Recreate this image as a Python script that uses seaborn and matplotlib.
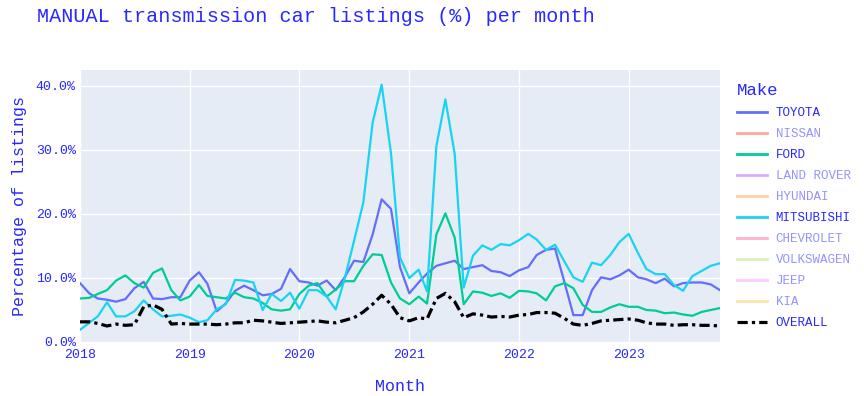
import seaborn as sns
import matplotlib.pyplot as plt
import matplotlib.ticker as mticker
from matplotlib.lines import Line2D
import pandas as pd

# Monthly share (%) of listings with manual transmission, Jan 2018 - Nov 2023
months = pd.date_range('2018-01-01', '2023-11-01', freq='MS')

toyota = [9.2, 7.6, 6.8, 6.6, 6.3, 6.7, 8.4, 9.4, 6.8, 6.7, 7.0, 7.0,
          9.6, 10.9, 9.1, 4.8, 6.0, 8.0, 8.8, 8.1, 7.3, 7.5, 8.3, 11.4,
          9.5, 9.3, 8.8, 9.6, 8.1, 10.2, 12.7, 12.5, 16.8, 22.3, 20.8, 11.7,
          7.6, 9.3, 10.7, 11.9, 12.3, 12.7, 11.4, 11.7, 12.0, 11.1, 10.9, 10.3,
          11.2, 11.7, 13.6, 14.4, 14.6, 9.4, 4.2, 4.2, 8.1, 10.1, 9.8, 10.4,
          11.3, 10.1, 9.8, 9.2, 9.9, 8.7, 9.2, 9.3, 9.3, 9.0, 8.1]
ford = [6.8, 6.9, 7.5, 8.1, 9.6, 10.4, 9.2, 8.5, 10.8, 11.5, 8.1, 6.5,
        7.1, 8.9, 7.2, 7.0, 6.8, 7.7, 7.0, 6.8, 6.1, 5.1, 4.9, 5.1,
        7.5, 8.8, 9.2, 7.1, 8.2, 9.5, 9.5, 11.9, 13.7, 13.6, 9.3, 6.8,
        5.9, 7.1, 6.0, 16.8, 20.1, 16.3, 5.9, 7.9, 7.7, 7.2, 7.6, 6.9,
        8.0, 7.9, 7.6, 6.5, 8.7, 9.2, 8.4, 5.8, 4.7, 4.7, 5.4, 5.9,
        5.5, 5.5, 5.0, 4.9, 4.5, 4.6, 4.3, 4.1, 4.7, 5.0, 5.3]
mitsubishi = [1.9, 3.0, 4.0, 6.2, 4.0, 4.0, 4.8, 6.5, 5.1, 4.0, 4.1, 4.3,
              3.8, 3.1, 3.4, 5.1, 5.9, 9.7, 9.6, 9.3, 5.0, 7.5, 6.4, 7.7,
              5.2, 8.1, 8.1, 7.1, 5.1, 10.1, 15.8, 21.8, 34.3, 40.2, 29.5, 13.2,
              10.0, 11.3, 7.9, 30.6, 37.9, 29.4, 8.5, 13.5, 15.1, 14.4, 15.3, 15.1,
              15.9, 16.9, 16.0, 14.4, 15.2, 12.6, 10.1, 9.4, 12.4, 12.0, 13.6, 15.6,
              16.9, 13.9, 11.4, 10.6, 10.6, 8.9, 8.0, 10.3, 11.1, 11.9, 12.3]
overall = [3.15, 3.15, 2.9, 2.5, 2.8, 2.6, 2.7, 5.5, 5.8, 5.1, 2.8, 2.9,
           2.8, 2.8, 2.8, 2.7, 2.8, 3.0, 3.0, 3.4, 3.3, 3.1, 2.9, 3.0,
           3.1, 3.2, 3.3, 3.1, 3.0, 3.4, 3.8, 4.7, 5.9, 7.3, 5.9, 3.8,
           3.3, 3.8, 3.6, 6.8, 7.6, 6.3, 3.8, 4.4, 4.2, 3.9, 4.0, 3.9,
           4.2, 4.3, 4.6, 4.6, 4.5, 3.7, 2.8, 2.6, 2.9, 3.3, 3.4, 3.5,
           3.6, 3.4, 3.0, 2.8, 2.8, 2.6, 2.7, 2.7, 2.6, 2.6, 2.5]

makes = ['TOYOTA', 'NISSAN', 'FORD', 'LAND ROVER', 'HYUNDAI', 'MITSUBISHI',
         'CHEVROLET', 'VOLKSWAGEN', 'JEEP', 'KIA']
make_colors = ['#636EFA', '#EF553B', '#00CC96', '#AB63FA', '#FFA15A', '#19D3F3',
               '#FF6692', '#B6E880', '#FF97FF', '#FECB52']
shown = ['TOYOTA', 'FORD', 'MITSUBISHI']

df = pd.DataFrame({'Month': list(months) * 3,
                   'Make': ['TOYOTA'] * len(months) + ['FORD'] * len(months) + ['MITSUBISHI'] * len(months),
                   'Pct': toyota + ford + mitsubishi})
df_all = pd.DataFrame({'Month': months, 'Pct': overall})

blue = '#2828ff'
mono = 'Liberation Mono'
plt.rcParams['font.family'] = [mono, 'DejaVu Sans']

fig, ax = plt.subplots(figsize=(8.64, 3.96), dpi=100)
fig.subplots_adjust(left=80 / 864, right=720 / 864, top=1 - 70 / 396, bottom=1 - 342 / 396)
ax.set_facecolor('#E5ECF6')

palette = dict(zip(makes, make_colors))
sns.lineplot(data=df, x='Month', y='Pct', hue='Make', palette={m: palette[m] for m in shown},
             linewidth=1.6, ax=ax, legend=False)
sns.lineplot(data=df_all, x='Month', y='Pct', color='black', linewidth=2.3,
             dashes=False, ax=ax, legend=False)
ax.lines[-1].set_dashes([3.2, 1.3, 1.0, 1.3])

ax.set_xlim(months[0], months[-1])
ax.set_ylim(0, 42.5)
ax.set_yticks([0, 10, 20, 30, 40])
ax.yaxis.set_major_formatter(mticker.FuncFormatter(lambda v, p: f'{v:.1f}%'))
ax.set_xticks(pd.date_range('2018-01-01', '2023-01-01', freq='YS'))
ax.set_xticklabels([str(y) for y in range(2018, 2024)])
ax.grid(True, color='white', linewidth=1)
ax.set_axisbelow(True)
for s in ax.spines.values():
    s.set_visible(False)
ax.tick_params(length=0, labelsize=9.5, labelcolor=blue)
ax.tick_params(axis='x', pad=5)
ax.tick_params(axis='y', pad=3)

ax.set_xlabel('Month', fontsize=12, color=blue, labelpad=13)
ax.set_ylabel('Percentage of listings', fontsize=12, color=blue, labelpad=6)
fig.text(37 / 864, 1 - 17 / 396, 'MANUAL transmission car listings (%) per month',
         fontsize=14.5, color=blue, va='center', ha='left')

handles, labels = [], []
for m, c in zip(makes, make_colors):
    alpha = 1.0 if m in shown else 0.5
    handles.append(Line2D([0], [0], color=c, linewidth=2, alpha=alpha))
    labels.append(m)
handles.append(Line2D([0], [0], color='black', linewidth=2.3, dashes=[3.2, 1.3, 1.0, 1.3]))
labels.append('OVERALL')
leg = ax.legend(handles, labels, title='Make', loc='upper left',
                bbox_to_anchor=(732 / 864, 1 - 78 / 396), bbox_transform=fig.transFigure,
                frameon=False, fontsize=9, title_fontsize=12.5, handlelength=2.4,
                handletextpad=0.7, labelspacing=0.72, alignment='left', borderaxespad=0)
leg.get_title().set_color(blue)
for txt, lab in zip(leg.get_texts(), labels):
    txt.set_color(blue)
    if lab not in shown and lab != 'OVERALL':
        txt.set_alpha(0.5)

plt.savefig('out.png', dpi=100)
